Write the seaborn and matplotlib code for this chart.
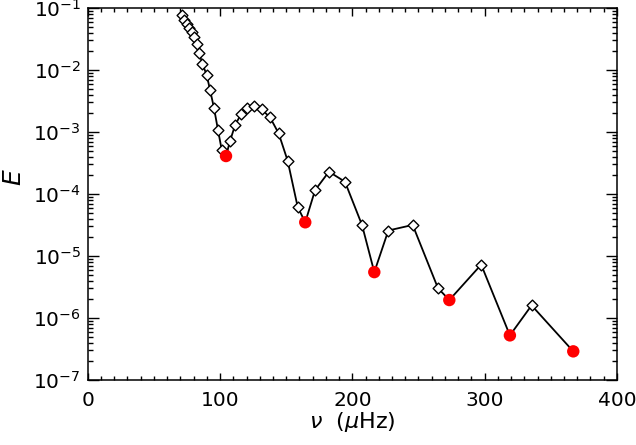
import numpy as np
import pandas as pd
import matplotlib
matplotlib.use("Agg")
import matplotlib.pyplot as plt
import seaborn as sns
from matplotlib.ticker import MultipleLocator, FixedLocator, NullFormatter

# ---------------------------
# data
# ---------------------------
nu_modes = [71.0, 73.0, 74.8, 76.6, 78.6, 80.3, 82.8, 84.3, 86.6, 89.9,
            92.4, 95.4, 98.5, 101.3,
            107.5, 111.3, 115.8, 120.2, 125.7, 131.5, 137.8, 144.3, 151.1, 158.7,
            171.8, 182.3, 194.4, 207.3,
            227.2, 245.6, 264.7,
            297.4,
            335.5]
E_modes = [7.8e-2, 6.5e-2, 5.6e-2, 4.7e-2, 4.1e-2, 3.4e-2, 2.6e-2, 1.86e-2, 1.27e-2, 8.3e-3,
           4.8e-3, 2.45e-3, 1.06e-3, 5.1e-4,
           7.1e-4, 1.28e-3, 1.94e-3, 2.42e-3, 2.58e-3, 2.31e-3, 1.72e-3, 9.5e-4, 3.44e-4, 6.15e-5,
           1.15e-4, 2.29e-4, 1.58e-4, 3.17e-5,
           2.58e-5, 3.17e-5, 3.04e-6,
           7.26e-6,
           1.6e-6]

# minima (red dots)
nu_min = [104.5, 164.4, 216.6, 273.3, 319.1, 367.0]
E_min = [4.1e-4, 3.5e-5, 5.5e-6, 1.95e-6, 5.25e-7, 2.9e-7]

y_major = [1e-7, 1e-6, 1e-5, 1e-4, 1e-3, 1e-2, 1e-1]

df_modes = pd.DataFrame({"nu": nu_modes, "E": E_modes})
df_min = pd.DataFrame({"nu": nu_min, "E": E_min})
df_all = pd.concat([df_modes, df_min]).sort_values("nu").reset_index(drop=True)

# ---------------------------
# style
# ---------------------------
sns.set_style("ticks")
plt.rcParams["font.family"] = ["DejaVu Sans"]
plt.rcParams["mathtext.fontset"] = "dejavusans"
plt.rcParams["axes.linewidth"] = 1.1
plt.rcParams["text.color"] = "black"
plt.rcParams["axes.labelcolor"] = "black"
plt.rcParams["xtick.color"] = "black"
plt.rcParams["ytick.color"] = "black"
plt.rcParams["axes.edgecolor"] = "black"

fig = plt.figure(figsize=(6.36, 4.45), dpi=100)
ax = fig.add_axes([0.138, 0.146, 0.832, 0.836])

sns.lineplot(data=df_all, x="nu", y="E", color="black", lw=1.3,
             estimator=None, sort=True, ax=ax, zorder=2)
sns.scatterplot(data=df_modes, x="nu", y="E", marker="D", s=30,
                facecolor="white", edgecolor="black", linewidth=1.0,
                ax=ax, zorder=3)
sns.scatterplot(data=df_min, x="nu", y="E", marker="o", s=80,
                color="red", edgecolor="none", ax=ax, zorder=4)

ax.set_yscale("log")
ax.set_xlim(0, 400)
ax.set_ylim(1e-7, 1e-1)

ax.xaxis.set_major_locator(MultipleLocator(100))
ax.xaxis.set_minor_locator(MultipleLocator(10))
ax.yaxis.set_major_locator(FixedLocator(y_major))
y_minor = [m * d for d in y_major[:-1] for m in range(2, 10)]
ax.yaxis.set_minor_locator(FixedLocator(y_minor))
ax.yaxis.set_minor_formatter(NullFormatter())

ax.tick_params(axis="both", which="both", direction="in",
               top=True, right=True, labelsize=14.5)
ax.tick_params(axis="x", which="major", length=5.4, width=1.0, pad=8)
ax.tick_params(axis="x", which="minor", length=2.7, width=1.0)
ax.tick_params(axis="y", which="major", length=7.6, width=1.0, pad=5)
ax.tick_params(axis="y", which="minor", length=3.8, width=1.0)

ax.set_xlabel(r"$\nu$  ($\mu$Hz)", fontsize=16, labelpad=0)
ax.set_ylabel(r"$E$", fontsize=18, rotation=90)
ax.yaxis.set_label_coords(-0.116, 0.545)

fig.savefig("out.png", dpi=100)
